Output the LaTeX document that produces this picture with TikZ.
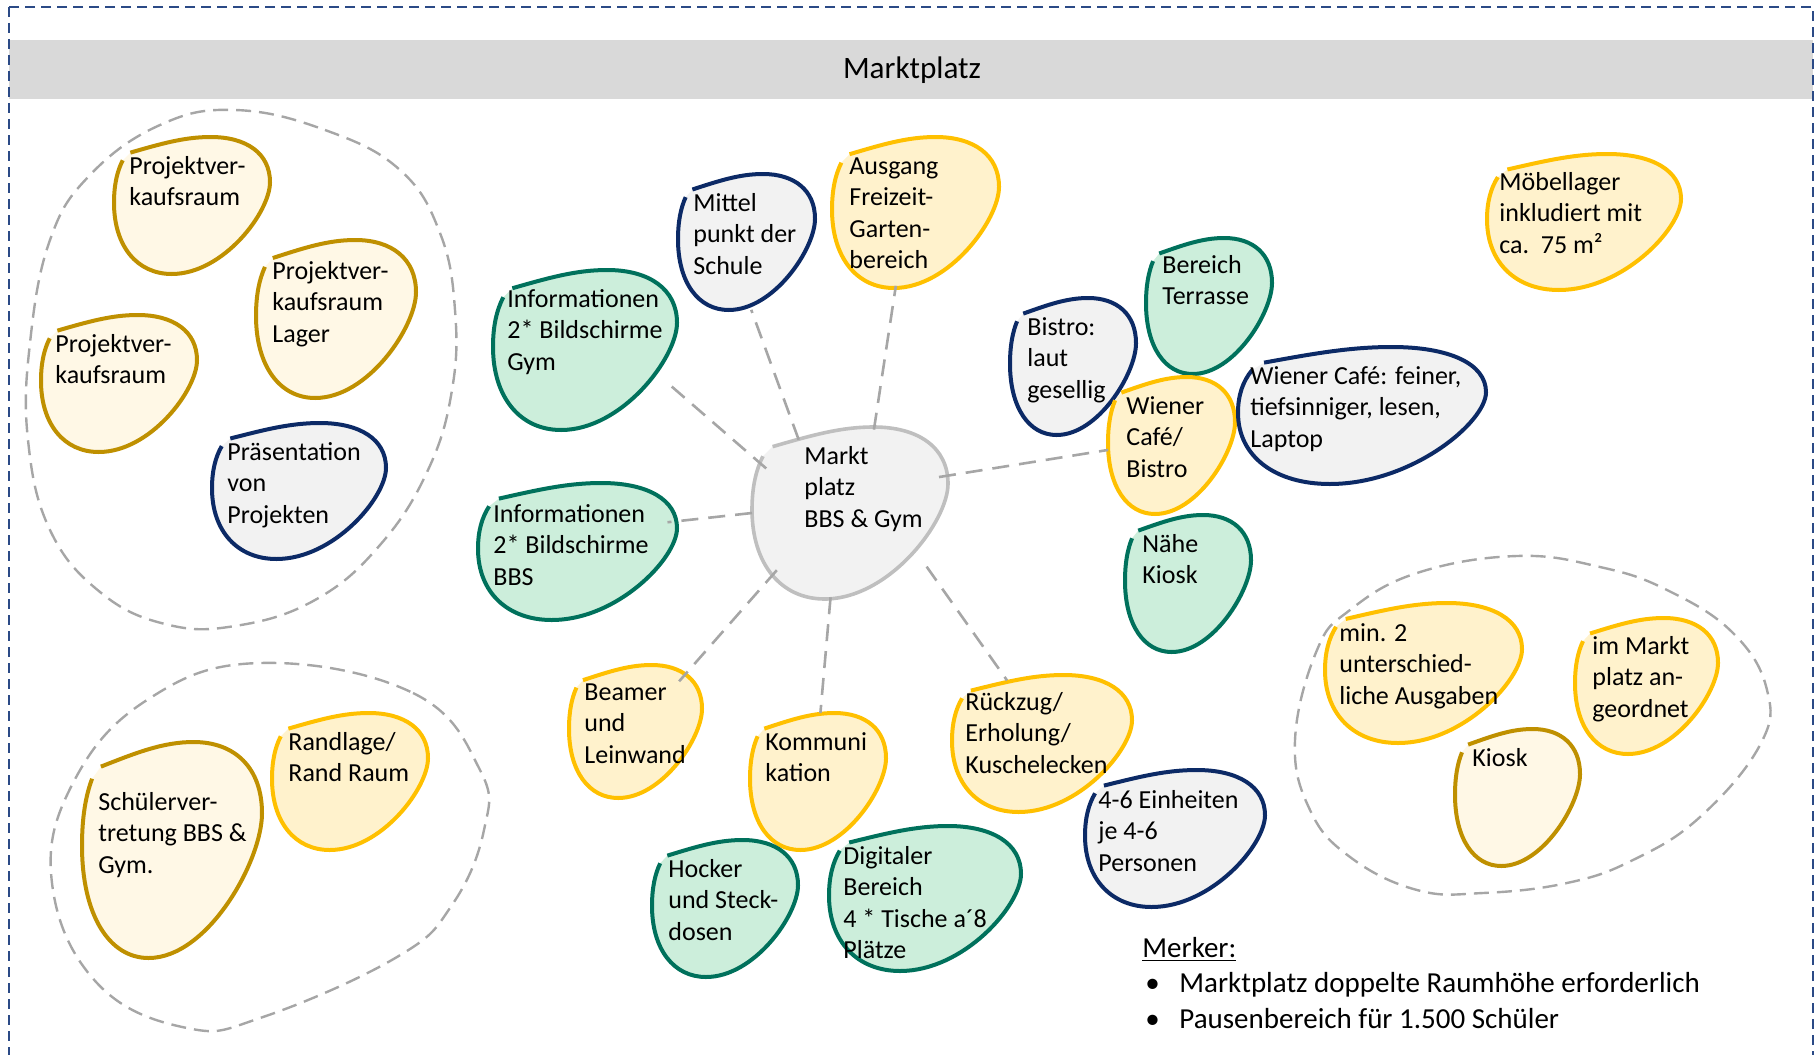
\documentclass[tikz,border=0pt]{standalone}
\usepackage{fontspec}
\setmainfont{Carlito}
\usetikzlibrary{shapes.geometric}
\pgfdeclarelayer{txt}
\pgfsetlayers{main,txt}

\definecolor{goldL}{HTML}{BF9000}
\definecolor{goldF}{HTML}{FFF8E6}
\definecolor{yelL}{HTML}{FFC000}
\definecolor{yelF}{HTML}{FFF2CC}
\definecolor{tealL}{HTML}{00715C}
\definecolor{tealF}{HTML}{CCEEDB}
\definecolor{navyL}{HTML}{0C2A66}
\definecolor{paleF}{HTML}{F2F2F2}
\definecolor{hubL}{HTML}{BFBFBF}
\definecolor{dashG}{HTML}{A6A6A6}
\definecolor{bandG}{HTML}{D9D9D9}
\definecolor{frameB}{HTML}{2B4A86}

\tikzset{
  gold fill/.style={fill=goldF}, gold line/.style={draw=goldL, line width=2pt},
  yel fill/.style={fill=yelF},   yel line/.style={draw=yelL, line width=2pt},
  teal fill/.style={fill=tealF}, teal line/.style={draw=tealL, line width=2pt},
  navy fill/.style={fill=paleF}, navy line/.style={draw=navyL, line width=2pt},
  hubk fill/.style={fill=paleF}, hubk line/.style={draw=hubL, line width=1.8pt},
  hub/.style={ellipse, inner sep=0pt, outer sep=0pt, draw=none},
  blobtext/.style={anchor=north west, inner sep=0pt, align=left,
    font=\fontsize{13pt}{15.6pt}\selectfont},
  link/.style={draw=dashG, line width=1.3pt, dash pattern=on 8.5pt off 5pt},
  group/.style={draw=dashG, line width=1.2pt, dash pattern=on 7.5pt off 4pt},
  frame/.style={draw=frameB, line width=1pt, dash pattern=on 5pt off 3pt},
}

% open outline of a bubble in the unit square (v pointing down)
\newcommand\blobpath{(0.105,0.114) .. controls (0.3,0.05) and (0.45,0.0) .. (0.62,0.0)
  .. controls (0.85,0.0) and (1.0,0.12) .. (1.0,0.33)
  .. controls (1.0,0.55) and (0.7,1.0) .. (0.37,1.0)
  .. controls (0.15,1.0) and (0.0,0.8) .. (0.0,0.48)
  .. controls (0.0,0.35) and (0.02,0.25) .. (0.056,0.17)}

% \blob{name}{x0}{y0}{x1}{y1}{kind}{text dx}{text dy}{text}
\newcommand\blob[9]{%
  \pgfmathsetmacro\bw{(#4-#2)*0.5}%
  \pgfmathsetmacro\bh{(#5-#3)*0.5}%
  \begin{scope}[shift={(#2,#3)}, x={(\bw pt,0pt)}, y={(0pt,-\bh pt)}]
    \fill[#6 fill] \blobpath -- cycle;
    \draw[#6 line] \blobpath;
  \end{scope}
  \node[hub, minimum width=\bw pt, minimum height=\bh pt] (#1) at ({(#2+#4)/2},{(#3+#5)/2}) {};
  \begin{pgfonlayer}{txt}
    \node[blobtext] (#1-t) at ({#2+#7},{#3+#8}) {\rule{0pt}{9.6pt}#9};
  \end{pgfonlayer}
}

\begin{document}
\begin{tikzpicture}[x=0.5pt, y=-0.5pt]
\useasboundingbox (0,0) rectangle (1818,1054);

% title band and outer frame
\fill[bandG] (9,40) rectangle (1813,99);
\draw[frame] (9,7) rectangle (1813,1080);
\node[font=\fontsize{15.6pt}{18pt}\selectfont, anchor=base, inner sep=0pt] (title) at (912,79) {Marktplatz};

% project rooms
\blob{pv1}{114}{137}{270}{274}{gold}{15}{18}{Projektver-\\kaufsraum}
\blob{pv2}{256}{240}{416}{398}{gold}{16}{20}{Projektver-\\kaufsraum\\Lager}
\blob{pv3}{41}{315}{197}{452}{gold}{14}{18}{Projektver-\\kaufsraum}
\blob{praes}{212}{423}{386}{559}{navy}{15}{18}{Präsentation\\von\\Projekten}

% student council
\blob{rand}{272}{713}{428}{850}{yel}{16}{18}{Randlage/\\Rand Raum}
\blob{schuel}{82}{742}{262}{958}{gold}{16}{49}{Schülerver-\\tretung BBS \&\\Gym.}

% market place and its areas
\blob{infogym}{493}{270}{677}{430}{teal}{14}{18}{Informationen\\2* Bildschirme\\Gym}
\blob{infobbs}{478}{483}{677}{620}{teal}{15}{20}{Informationen\\2* Bildschirme\\BBS}
\blob{mittel}{678}{174}{815}{310}{navy}{15}{18}{Mittel\\punkt der\\Schule}
\blob{ausgang}{832}{137}{999}{288}{yel}{17}{18}{Ausgang\\Freizeit-\\Garten-\\bereich}
\blob{markt}{752}{427}{948}{599}{hubk}{52}{18}{Markt\\platz\\BBS \& Gym}
\blob{bistro}{1010}{298}{1136}{435}{navy}{17}{18}{Bistro:\\laut\\gesellig}
\blob{terr}{1146}{238}{1272}{374}{teal}{16}{16}{Bereich\\Terrasse}
\blob{wcb}{1108}{377}{1235}{514}{yel}{18}{18}{Wiener\\Café/\\Bistro}
\blob{wcf}{1238}{347}{1486}{484}{navy}{12}{18}{Wiener Café: feiner,\\tiefsinniger, lesen,\\Laptop}
\blob{naehe}{1125}{515}{1251}{652}{teal}{17}{18}{Nähe\\Kiosk}
\blob{moebel}{1487}{154}{1681}{290}{yel}{12}{17}{Möbellager\\inkludiert mit\\ca.\ \ 75 m²}
\blob{beamer}{569}{665}{702}{798}{yel}{15}{16}{Beamer\\und\\Leinwand}
\blob{komm}{750}{713}{886}{850}{yel}{15}{18}{Kommuni\\kation}
\blob{hocker}{652}{840}{798}{977}{teal}{16}{18}{Hocker\\und Steck-\\dosen}
\blob{digital}{829}{826}{1021}{971}{teal}{14}{19}{Digitaler\\Bereich\\4 * Tische a´8\\Plätze}
\blob{rueck}{952}{675}{1132}{812}{yel}{13}{16}{Rückzug/\\Erholung/\\Kuschelecken}
\blob{einh}{1085}{770}{1265}{907}{navy}{13}{19}{4-6 Einheiten\\je 4-6\\Personen}

% kiosk
\blob{min2}{1325}{603}{1522}{743}{yel}{14}{19}{min. 2\\unterschied-\\liche Ausgaben}
\blob{imm}{1575}{618}{1718}{754}{yel}{17}{17}{im Markt\\platz an-\\geordnet}
\blob{kiosk}{1455}{729}{1580}{866}{gold}{17}{18}{Kiosk}

% dashed groupings
\draw[group] plot[smooth cycle, tension=0.7] coordinates {
  (235,110) (325,130) (400,170) (440,233) (455,310) (452,390) (428,470)
  (380,545) (315,600) (235,626) (165,624) (100,592) (50,530) (28,440)
  (30,343) (50,240) (90,175) (160,125)};
\draw[group] plot[smooth cycle, tension=0.7] coordinates {
  (260,663) (413,693) (480,770) (484,830) (452,905) (397,957) (263,1017)
  (187,1028) (97,983) (52,883) (73,783) (147,700)};
\draw[group] plot[smooth cycle, tension=0.7] coordinates {
  (1517,556) (1600,567) (1667,590) (1733,633) (1767,690) (1760,745)
  (1700,817) (1633,860) (1567,883) (1483,893) (1417,890) (1350,857)
  (1310,810) (1295,740) (1317,650) (1350,610) (1417,573)};

% connectors from the market place
\draw[link] (markt.152) -- (infogym.-22);
\draw[link] (markt.125) -- (mittel.-86);
\draw[link] (markt.74) -- (ausgang.-105);
\draw[link] (markt.22) -- (wcb.-176);
\draw[link] (markt.180) -- (infobbs.18);
\draw[link] (markt.-142) -- (beamer.49);
\draw[link] (markt.-103) -- (komm.88);
\draw[link] (markt.-35) -- (rueck.119);

% notes
\node[anchor=north west, align=left, inner sep=0pt,
      font=\fontsize{14.5pt}{17.75pt}\selectfont] (merker) at (1142,936)
  {\rule{0pt}{10.5pt}\underline{Merker:}\\
   \hspace*{1.5pt}\makebox[17pt][l]{•}Marktplatz doppelte Raumhöhe erforderlich\\
   \hspace*{1.5pt}\makebox[17pt][l]{•}Pausenbereich für 1.500 Schüler};
\end{tikzpicture}
\end{document}
